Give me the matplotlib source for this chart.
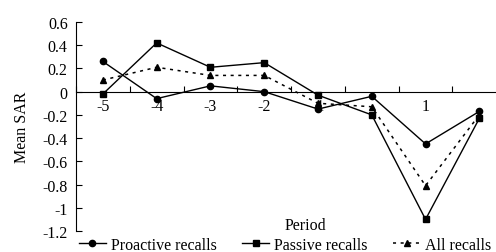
import numpy as np
import matplotlib.pyplot as plt

plt.rcParams['font.family'] = ['Liberation Serif', 'DejaVu Serif']

periods = ['-5', '-4', '-3', '-2', '-1', '', '1', '']
proactive = [0.26, -0.06, 0.05, 0.0, -0.15, -0.04, -0.45, -0.17]
passive = [-0.02, 0.42, 0.21, 0.25, -0.03, -0.20, -1.10, -0.23]
all_recalls = [0.10, 0.21, 0.14, 0.14, -0.10, -0.13, -0.81, -0.20]

fs = 11.5
fig = plt.figure(figsize=(4.96, 2.53), dpi=100)
ax = fig.add_axes([76/496, 1 - 232/253, 420/496, (232 - 23)/253])

x = np.arange(len(periods))
ax.plot(x, proactive, color='black', lw=1, marker='o', ms=4.5, label='Proactive recalls')
ax.plot(x, passive, color='black', lw=1, marker='s', ms=4.5, label='Passive recalls')
ax.plot(x, all_recalls, color='black', lw=1.1, ls=(0, (2, 3)), marker='^', ms=5, label='All recalls')

ax.set_xlim(-0.5, 7.31)
ax.set_ylim(-1.2, 0.6)
ax.set_yticks(np.arange(-1.2, 0.61, 0.2))
ax.set_yticklabels(['-1.2', '-1', '-0.8', '-0.6', '-0.4', '-0.2', '0', '0.2', '0.4', '0.6'])

# tick marks at category boundaries, labels at centres
ax.set_xticks(np.arange(-0.5, 7.5, 1.0))
ax.set_xticklabels([])
ax.set_xticks(x, minor=True)
ax.set_xticklabels(periods, minor=True)
ax.tick_params(axis='x', which='major', direction='in', length=4, width=0.8)
ax.tick_params(axis='x', which='minor', length=0, pad=4.5, labelsize=fs)
ax.tick_params(axis='y', direction='in', length=4, width=0.8, labelsize=fs, pad=6)

ax.spines['bottom'].set_position(('data', 0))
ax.spines['top'].set_visible(False)
ax.spines['right'].set_visible(False)
ax.spines['left'].set_linewidth(0.8)
ax.spines['bottom'].set_linewidth(0.8)

ax.set_ylabel('Mean SAR', fontsize=fs, labelpad=9)
fig.text(305/496, 1 - 226/253, 'Period', ha='center', va='center', fontsize=fs)

fig.legend(loc='center', bbox_to_anchor=(285/496, 1 - 246/253), ncol=3, frameon=False,
           fontsize=fs, handlelength=1.7, handletextpad=0.3, columnspacing=1.6,
           borderpad=0, borderaxespad=0)

fig.savefig('out.png', dpi=100)
